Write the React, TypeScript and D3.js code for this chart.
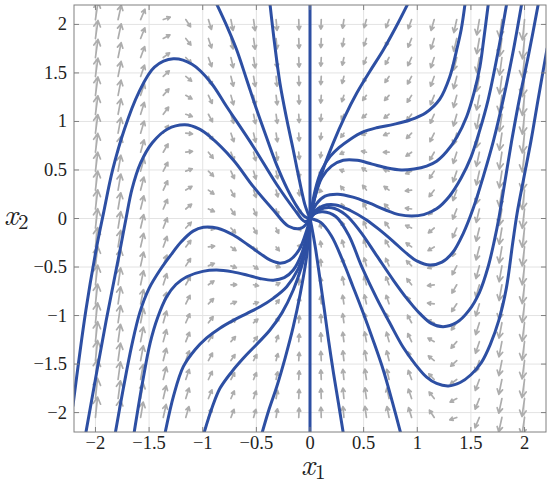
import React from 'react';
import * as d3 from 'd3';

const W = 550;
const H = 485;
const X_DOMAIN: [number, number] = [-2.2, 2.2];
const Y_DOMAIN: [number, number] = [-2.2, 2.2];
const TICKS = [-2, -1.5, -1, -0.5, 0, 0.5, 1, 1.5, 2];
const TICK_LABELS = ['−2', '−1.5', '−1', '−0.5', '0', '0.5', '1', '1.5', '2'];

// arrow grid (tails)
const QUIVER_X = [-2, -1.789, -1.579, -1.368, -1.158, -0.947, -0.737, -0.526, -0.316, -0.105,
  0.105, 0.316, 0.526, 0.737, 0.947, 1.158, 1.368, 1.579, 1.789, 2];
const QUIVER_Y = [-2.05, -1.855, -1.659, -1.464, -1.269, -1.074, -0.879, -0.683, -0.488, -0.293, -0.098,
  0.098, 0.293, 0.488, 0.683, 0.879, 1.074, 1.269, 1.464, 1.659, 1.855, 2.05];

// vector field coefficients estimated from the arrows: x1' = -K1 x1, x2' = -K2 x2 + K3 x1 - K4 x1^3
const K1 = 0.65;
const K2 = 1.0;
const K3 = 2.0;
const K4 = 2.0;

// trajectories
const curveL1: [number, number][] = [[-2.21, -1.93], [-2.09, -0.95], [-1.99, -0.3], [-1.926, 0.05], [-1.84, 0.5], [-1.73, 0.92], [-1.6, 1.29], [-1.45, 1.56], [-1.274, 1.645], [-1.1, 1.59], [-0.93, 1.41], [-0.776, 1.152], [-0.528, 0.74], [-0.31, 0.35], [-0.15, 0.1], [-0.05, -0.03], [0, 0]];
const curveL2: [number, number][] = [[-2.09, -2.21], [-1.9, -1.05], [-1.77, -0.32], [-1.715, 0.0], [-1.66, 0.3], [-1.58, 0.57], [-1.47, 0.78], [-1.33, 0.92], [-1.165, 0.965], [-1.03, 0.92], [-0.932, 0.843], [-0.715, 0.603], [-0.528, 0.328], [-0.342, 0.088], [-0.2, -0.08], [-0.08, -0.1], [0, 0]];
const curveL3: [number, number][] = [[-1.815, -2.21], [-1.74, -1.75], [-1.66, -1.3], [-1.584, -0.96], [-1.5, -0.72], [-1.398, -0.531], [-1.3, -0.38], [-1.2, -0.24], [-1.09, -0.13], [-0.994, -0.09], [-0.86, -0.1], [-0.715, -0.17], [-0.58, -0.27], [-0.466, -0.36], [-0.37, -0.43], [-0.28, -0.46], [-0.19, -0.43], [-0.1, -0.32], [-0.03, -0.12], [0, 0]];
const curveL4: [number, number][] = [[-1.64, -2.21], [-1.56, -1.68], [-1.491, -1.286], [-1.42, -1.02], [-1.336, -0.806], [-1.25, -0.68], [-1.149, -0.6], [-1.0, -0.545], [-0.87, -0.531], [-0.72, -0.55], [-0.59, -0.582], [-0.46, -0.62], [-0.342, -0.636], [-0.24, -0.61], [-0.156, -0.531], [-0.08, -0.37], [-0.03, -0.17], [0, 0]];
const curveL5: [number, number][] = [[-1.351, -2.21], [-1.27, -1.82], [-1.181, -1.527], [-1.07, -1.35], [-0.963, -1.23], [-0.84, -1.13], [-0.715, -1.05], [-0.59, -0.98], [-0.466, -0.91], [-0.34, -0.82], [-0.217, -0.703], [-0.11, -0.52], [-0.03, -0.25], [0, 0]];
const curveL6: [number, number][] = [[-0.988, -2.21], [-0.91, -1.94], [-0.839, -1.75], [-0.73, -1.58], [-0.622, -1.44], [-0.5, -1.3], [-0.373, -1.149], [-0.26, -0.97], [-0.156, -0.737], [-0.08, -0.5], [-0.03, -0.27], [0, 0]];
const curveL7: [number, number][] = [[-0.447, -2.21], [-0.38, -1.96], [-0.31, -1.733], [-0.23, -1.43], [-0.156, -1.115], [-0.09, -0.77], [-0.03, -0.38], [0, 0]];
const curveT1: [number, number][] = [[-0.87, 2.21], [-0.77, 1.97], [-0.683, 1.736], [-0.59, 1.43], [-0.5, 1.13], [-0.4, 0.82], [-0.31, 0.55], [-0.21, 0.3], [-0.12, 0.12], [-0.05, 0.02], [0, 0]];
const curveT2: [number, number][] = [[-0.373, 2.21], [-0.33, 1.8], [-0.28, 1.393], [-0.22, 1.04], [-0.156, 0.706], [-0.1, 0.4], [-0.047, 0.14], [0, 0]];
const curveV: [number, number][] = [[0, -2.21], [0, 2.21]];
const curveRE: [number, number][] = [[2.21, 1.75], [2.13, 1.25], [2.06, 0.8], [1.99, 0.4], [1.93, 0.05], [1.89, -0.25], [1.83, -0.72], [1.76, -1.05], [1.68, -1.3], [1.6, -1.48], [1.5, -1.61], [1.4, -1.69], [1.29, -1.725], [1.18, -1.7], [1.087, -1.635], [0.98, -1.5], [0.87, -1.33], [0.75, -1.09], [0.621, -0.82], [0.48, -0.49], [0.36, -0.17], [0.24, 0.02], [0.12, 0.07], [0.04, 0.05], [0, 0]];
const curveRT1: [number, number][] = [[2.128, 2.21], [2.04, 1.7], [1.95, 1.22], [1.88, 0.8], [1.82, 0.4], [1.76, 0.0], [1.72, -0.22], [1.66, -0.5], [1.58, -0.76], [1.48, -0.95], [1.37, -1.07], [1.242, -1.115], [1.13, -1.08], [1.025, -0.98], [0.9, -0.82], [0.776, -0.634], [0.62, -0.38], [0.466, -0.13], [0.33, 0.04], [0.2, 0.11], [0.09, 0.09], [0, 0]];
const curveRT2: [number, number][] = [[1.973, 2.21], [1.89, 1.7], [1.8, 1.22], [1.71, 0.8], [1.62, 0.45], [1.52, 0.1], [1.43, -0.15], [1.33, -0.35], [1.23, -0.45], [1.118, -0.48], [1.0, -0.44], [0.901, -0.36], [0.78, -0.24], [0.652, -0.12], [0.52, -0.01], [0.38, 0.08], [0.24, 0.14], [0.12, 0.13], [0.04, 0.07], [0, 0]];
const curveRT3: [number, number][] = [[1.833, 2.21], [1.75, 1.7], [1.66, 1.22], [1.58, 0.9], [1.5, 0.63], [1.41, 0.42], [1.3, 0.23], [1.18, 0.1], [1.06, 0.04], [0.95, 0.025], [0.83, 0.04], [0.7, 0.09], [0.55, 0.16], [0.4, 0.22], [0.26, 0.25], [0.14, 0.23], [0.06, 0.15], [0, 0]];
const curveRT4: [number, number][] = [[1.662, 2.21], [1.62, 1.85], [1.584, 1.564], [1.53, 1.3], [1.46, 1.049], [1.37, 0.84], [1.274, 0.69], [1.18, 0.59], [1.087, 0.54], [0.97, 0.51], [0.85, 0.5], [0.72, 0.52], [0.58, 0.56], [0.44, 0.6], [0.31, 0.6], [0.2, 0.54], [0.11, 0.42], [0.04, 0.2], [0, 0]];
const curveRT5: [number, number][] = [[1.445, 2.21], [1.41, 1.95], [1.367, 1.736], [1.3, 1.45], [1.21, 1.23], [1.08, 1.09], [0.932, 1.015], [0.78, 0.97], [0.621, 0.935], [0.49, 0.89], [0.373, 0.815], [0.27, 0.73], [0.186, 0.637], [0.11, 0.5], [0.05, 0.3], [0, 0]];
const curveRT6: [number, number][] = [[0.911, 2.21], [0.8, 1.97], [0.683, 1.736], [0.56, 1.52], [0.435, 1.29], [0.32, 1.04], [0.217, 0.78], [0.13, 0.53], [0.06, 0.28], [0, 0]];
const curveRB1: [number, number][] = [[0.845, -2.21], [0.77, -1.9], [0.683, -1.561], [0.59, -1.26], [0.497, -0.977], [0.4, -0.7], [0.3, -0.42], [0.2, -0.18], [0.1, -0.04], [0, 0]];
const curveRB2: [number, number][] = [[0.31, -2.21], [0.265, -1.9], [0.22, -1.6], [0.175, -1.27], [0.135, -0.95], [0.09, -0.6], [0.05, -0.3], [0.015, -0.08], [0, 0]];

const CURVES = [curveL1, curveL2, curveL3, curveL4, curveL5, curveL6, curveL7, curveT1, curveT2, curveV,
  curveRE, curveRT1, curveRT2, curveRT3, curveRT4, curveRT5, curveRT6, curveRB1, curveRB2];

const x = d3.scaleLinear().domain(X_DOMAIN).range([74, 546]);
const y = d3.scaleLinear().domain(Y_DOMAIN).range([432, 5]);

function field(a: number, b: number): [number, number] {
  return [-K1 * a, -K2 * b + K3 * a - K4 * a * a * a];
}

const TICK_FONT = '"Liberation Serif", "Times New Roman", Times';
const LABEL_FONT = '"Latin Modern Roman", "Liberation Serif", Times';

export default function App() {
  const line = d3.line<[number, number]>()
    .x(d => x(d[0]))
    .y(d => y(d[1]))
    .curve(d3.curveCatmullRom.alpha(0.5));

  const sx = x(1) - x(0);
  const sy = y(0) - y(1);

  const arrows: React.ReactNode[] = [];
  QUIVER_X.forEach((gx, i) => {
    QUIVER_Y.forEach((gy, j) => {
      const [u, v] = field(gx, gy);
      const mag = Math.hypot(u, v);
      const len = 7.5 * Math.pow(mag, 0.38);
      const dx = u * sx, dy = -v * sy;
      const dl = Math.hypot(dx, dy) || 1;
      const ux = dx / dl, uy = dy / dl;
      const x0 = x(gx), y0 = y(gy);
      const x1 = x0 + ux * len, y1 = y0 + uy * len;
      const hl = Math.max(3.5, len * 0.38);
      const ang = 0.5;
      const ca = Math.cos(ang), sa = Math.sin(ang);
      const hx1 = x1 - hl * (ux * ca - uy * sa), hy1 = y1 - hl * (uy * ca + ux * sa);
      const hx2 = x1 - hl * (ux * ca + uy * sa), hy2 = y1 - hl * (uy * ca - ux * sa);
      arrows.push(
        <path key={`a${i}-${j}`} d={`M${x0},${y0}L${x1},${y1}M${hx1},${hy1}L${x1},${y1}L${hx2},${hy2}`}
          fill="none" stroke="#adadad" strokeWidth={1.7} strokeLinecap="round" strokeLinejoin="round" />
      );
    });
  });

  const [x0, x1r] = x.range();
  const [yb, yt] = y.range();

  return (
    <svg width={W} height={H} style={{ position: 'absolute', left: 0, top: 0, background: '#fff' }}>
      <defs>
        <clipPath id="plot-clip">
          <rect x={x0} y={yt} width={x1r - x0} height={yb - yt} />
        </clipPath>
      </defs>
      <rect x={0} y={0} width={W} height={H} fill="#fff" />
      {TICKS.map(t => (
        <g key={`g${t}`}>
          <line x1={x(t)} x2={x(t)} y1={yt} y2={yb} stroke="#e3e3e3" strokeWidth={1} />
          <line x1={x0} x2={x1r} y1={y(t)} y2={y(t)} stroke="#e3e3e3" strokeWidth={1} />
        </g>
      ))}
      <g clipPath="url(#plot-clip)">{arrows}</g>
      <g clipPath="url(#plot-clip)">
        {CURVES.map((c, i) => (
          <path key={`c${i}`} d={line(c) || ''} fill="none" stroke="#2d4fa3" strokeWidth={3} strokeLinecap="round" />
        ))}
      </g>
      <rect x={x0} y={yt} width={x1r - x0} height={yb - yt} fill="none" stroke="#808080" strokeWidth={1} />
      {TICKS.map(t => (
        <g key={`t${t}`} stroke="#808080" strokeWidth={1}>
          <line x1={x(t)} x2={x(t)} y1={yb} y2={yb - 5} />
          <line x1={x(t)} x2={x(t)} y1={yt} y2={yt + 5} />
          <line x1={x0} x2={x0 + 5} y1={y(t)} y2={y(t)} />
          <line x1={x1r} x2={x1r - 5} y1={y(t)} y2={y(t)} />
        </g>
      ))}
      {TICKS.map((t, i) => (
        <text key={`xl${t}`} x={x(t)} y={449} fontSize={18.5} textAnchor="middle" fill="#222" style={{ fontFamily: TICK_FONT }}>{TICK_LABELS[i]}</text>
      ))}
      {TICKS.map((t, i) => (
        <text key={`yl${t}`} x={67} y={y(t) + 6} fontSize={18.5} textAnchor="end" fill="#222" style={{ fontFamily: TICK_FONT }}>{TICK_LABELS[i]}</text>
      ))}
      <text x={301} y={475} fontSize={30} fill="#222" style={{ fontFamily: LABEL_FONT }}>
        <tspan fontStyle="italic">x</tspan><tspan fontSize={21} dy={4}>1</tspan>
      </text>
      <text x={4} y={225} fontSize={30} fill="#222" style={{ fontFamily: LABEL_FONT }}>
        <tspan fontStyle="italic">x</tspan><tspan fontSize={21} dy={4}>2</tspan>
      </text>
    </svg>
  );
}
